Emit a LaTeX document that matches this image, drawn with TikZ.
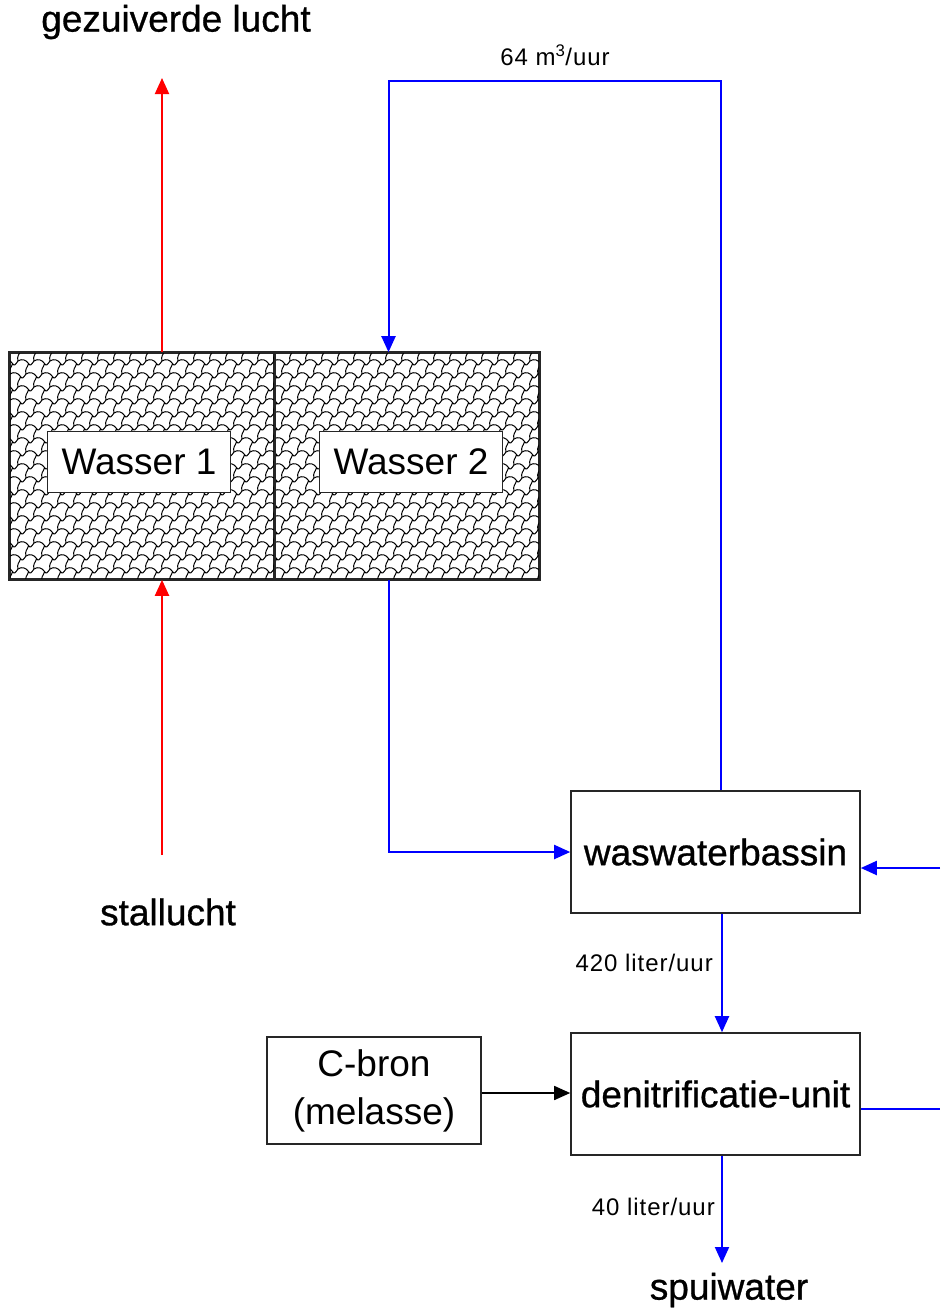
\documentclass[tikz,border=0pt]{standalone}
\usepackage{fontspec}
\setmainfont{Liberation Sans}
\newfontfamily\heavyfont[FakeBold=0.8]{Liberation Sans}
\newfontfamily\flowfont[LetterSpace=4]{Liberation Sans}
\usetikzlibrary{arrows.meta,positioning,calc}

\begin{document}
\begin{tikzpicture}[x=1pt, y=-1pt,
    unit/.style={draw=black!85, line width=1.6pt, fill=white, font=\heavyfont\fontsize{37}{48}\selectfont, align=center, inner sep=0pt},
    wasserbox/.style={unit, font=\fontsize{37}{48}\selectfont, minimum width=183pt, minimum height=61pt},
    tank/.style={draw=black!85, line width=1.6pt, minimum height=226pt, inner sep=0pt},
    water/.style={draw=blue, line width=2pt},
    air/.style={draw=red, line width=2pt},
    tip/.style={-{Triangle[width=14pt,length=16pt]}},
    hatch/.style={black, line width=1pt},
    flow/.style={font=\flowfont\fontsize{24}{28}\selectfont, inner sep=0pt},
    big/.style={font=\heavyfont\fontsize{37}{44}\selectfont, inner sep=0pt}]
    \useasboundingbox (0,0) rectangle (940,1309);

    % wassers
    \node[tank, minimum width=264pt] (tank1) at (142,466) {};
    \node[tank, minimum width=265pt] (tank2) at (406.5,466) {};
    \begin{scope}
        \clip (tank1.north west) rectangle (tank2.south east);
        \foreach \r in {0,...,18}{
            \foreach \c in {-3,...,36}{
                \draw[hatch, shift={({\c*16+mod(\r,2)*8+10},{\r*13+348})}, scale=1.33]
                    (0,0) .. controls (3,-2) and (6,-1) .. (8,2) .. controls (9,4) and (10,3) .. (12,0)
                    (8,2) .. controls (7,5) and (5,6) .. (6,9.77);
            }
        }
    \end{scope}
    \draw[tank] (tank1.north west) rectangle (tank2.south east);
    \draw[tank] (tank1.north east) -- (tank1.south east);
    \node[wasserbox] (wasser1) at (139,462) {Wasser 1};
    \node[wasserbox] (wasser2) at (411,462) {Wasser 2};

    % units
    \node[unit, minimum width=289pt, minimum height=122pt] (bassin) at (715.5,852) {waswaterbassin};
    \node[unit, minimum width=289pt, minimum height=122pt] (denit) at (715.5,1094) {denitrificatie-unit};
    \node[unit, minimum width=214pt, minimum height=107pt, font=\fontsize{37}{48}\selectfont] (cbron) at (374,1090.5) {C-bron\\(melasse)};

    % texts
    \node[big] (gezlucht) at (176,22) {gezuiverde lucht};
    \node[big] (stallucht) at (168,912) {stallucht};
    \node[big] (spuiwater) at (729,1290) {spuiwater};
    \node[flow] (debiet1) at (555,55) {64 m\textsuperscript{3}/uur};
    \node[flow, anchor=east] (debiet2) at (713,963) {420 liter/uur};
    \node[flow, anchor=east] (debiet3) at (715,1207) {40 liter/uur};

    \coordinate (lucht) at (162,78);
    \coordinate (stal) at (162,855);
    \coordinate (retour) at (940,868);
    \coordinate (afvoer) at (940,1109);
    \coordinate (boven) at (721,81);
    \coordinate (spui) at (722,1263);

    % lucht
    \draw[air, tip] (tank1.north -| lucht) -- (lucht);
    \draw[air, tip] (stal) -- (tank1.south -| stal);

    % water
    \draw[water, tip] ([xshift=5.5pt]bassin.north) |- (boven) -| ([xshift=-18pt]tank2.north);
    \draw[water, tip] ([xshift=-18pt]tank2.south) |- (bassin.west);
    \draw[water, tip] (retour) -- (retour -| bassin.east);
    \draw[water, tip] ([xshift=6.5pt]bassin.south) -- ([xshift=6.5pt]denit.north);
    \draw[water] (afvoer -| denit.east) -- (afvoer);
    \draw[water, tip] ([xshift=6.5pt]denit.south) -- (spui);
    \draw[line width=1.6pt, tip] (cbron.east |- 0,1093) -- (denit.west |- 0,1093);
\end{tikzpicture}
\end{document}
